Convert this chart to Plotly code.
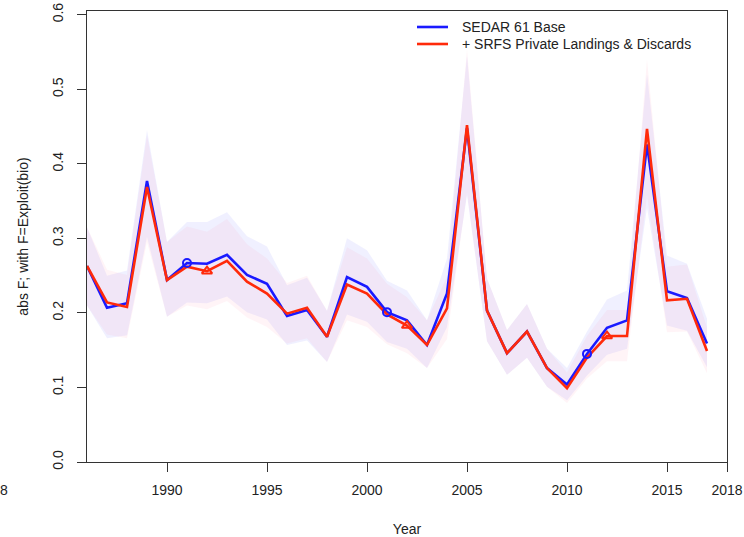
import plotly.graph_objects as go

years = list(range(1986, 2018))

base_f = [0.263, 0.207, 0.213, 0.377, 0.244, 0.267, 0.266, 0.278, 0.251, 0.239,
          0.196, 0.204, 0.168, 0.248, 0.235, 0.201, 0.190, 0.157, 0.226, 0.448,
          0.203, 0.146, 0.175, 0.126, 0.104, 0.145, 0.180, 0.190, 0.426, 0.229,
          0.220, 0.159]
base_hi = [0.315, 0.250, 0.257, 0.445, 0.295, 0.322, 0.322, 0.335, 0.303, 0.289,
           0.237, 0.247, 0.203, 0.300, 0.284, 0.243, 0.230, 0.190, 0.273, 0.545,
           0.246, 0.177, 0.212, 0.152, 0.126, 0.175, 0.218, 0.230, 0.520, 0.277,
           0.266, 0.192]
base_lo = [0.210, 0.166, 0.170, 0.302, 0.195, 0.214, 0.213, 0.222, 0.201, 0.191,
           0.157, 0.163, 0.134, 0.198, 0.188, 0.161, 0.152, 0.126, 0.181, 0.358,
           0.162, 0.117, 0.140, 0.101, 0.083, 0.116, 0.144, 0.152, 0.341, 0.183,
           0.176, 0.127]

srfs_f = [0.263, 0.214, 0.208, 0.369, 0.244, 0.262, 0.256, 0.270, 0.242, 0.226,
          0.199, 0.207, 0.168, 0.238, 0.226, 0.198, 0.183, 0.157, 0.206, 0.452,
          0.203, 0.146, 0.175, 0.126, 0.099, 0.140, 0.169, 0.169, 0.447, 0.217,
          0.219, 0.149]
srfs_hi = [0.315, 0.258, 0.251, 0.438, 0.295, 0.316, 0.309, 0.326, 0.292, 0.273,
           0.240, 0.250, 0.203, 0.288, 0.273, 0.239, 0.221, 0.190, 0.249, 0.553,
           0.246, 0.177, 0.212, 0.152, 0.120, 0.169, 0.204, 0.204, 0.540, 0.262,
           0.265, 0.180]
srfs_lo = [0.210, 0.171, 0.166, 0.295, 0.195, 0.210, 0.205, 0.216, 0.194, 0.181,
           0.159, 0.166, 0.134, 0.190, 0.181, 0.158, 0.146, 0.126, 0.165, 0.362,
           0.162, 0.117, 0.140, 0.101, 0.079, 0.112, 0.135, 0.135, 0.358, 0.174,
           0.175, 0.119]

marker_years_base = [1991, 2001, 2011]
marker_years_srfs = [1992, 2002, 2012]

legend_labels = ["SEDAR 61 Base", "+ SRFS Private Landings & Discards"]

x_ticks = [1990, 1995, 2000, 2005, 2010, 2015, 2018]
y_ticks = [0.0, 0.1, 0.2, 0.3, 0.4, 0.5, 0.6]

BLUE = "#1a1aff"
RED = "#ff2a0a"
FONT = "Liberation Sans, Arial, sans-serif"
TXT = "#222"

W, H = 744, 537
L, R, T, B = 87, 17, 11, 75
PW, PH = W - L - R, H - T - B


def px(xp):
    return (xp - L) / PW


def py(yp):
    return (H - B - yp) / PH


fig = go.Figure()

# confidence bands
for hi, lo, col in [(base_hi, base_lo, "rgba(110,110,255,0.10)"),
                    (srfs_hi, srfs_lo, "rgba(255,110,150,0.08)")]:
    fig.add_trace(go.Scatter(x=years + years[::-1], y=hi + lo[::-1],
                             fill="toself", fillcolor=col, line=dict(width=0),
                             mode="lines", hoverinfo="skip", showlegend=False))

fig.add_trace(go.Scatter(x=years, y=base_f, mode="lines", name=legend_labels[0],
                         line=dict(color=BLUE, width=2.6), showlegend=False))
fig.add_trace(go.Scatter(x=years, y=srfs_f, mode="lines", name=legend_labels[1],
                         line=dict(color=RED, width=2.6), showlegend=False))

bm = [base_f[years.index(y)] for y in marker_years_base]
sm = [srfs_f[years.index(y)] for y in marker_years_srfs]
fig.add_trace(go.Scatter(x=marker_years_base, y=bm, mode="markers", showlegend=False,
                         marker=dict(symbol="circle-open", size=8, color=BLUE,
                                     line=dict(width=2, color=BLUE))))
fig.add_trace(go.Scatter(x=marker_years_srfs, y=sm, mode="markers", showlegend=False,
                         marker=dict(symbol="triangle-up-open", size=9, color=RED,
                                     line=dict(width=2, color=RED))))

# manual legend (R-style, no box)
shapes = []
annotations = []
for i, (lab, col) in enumerate(zip(legend_labels, [BLUE, RED])):
    yy = 27 + 17 * i
    shapes.append(dict(type="line", xref="paper", yref="paper",
                       x0=px(417), x1=px(448), y0=py(yy), y1=py(yy),
                       line=dict(color=col, width=2.6)))
    annotations.append(dict(text=lab, xref="paper", yref="paper", x=px(460),
                            y=py(yy), xanchor="left", yanchor="middle",
                            showarrow=False, font=dict(size=14, color=TXT)))

annotations.append(dict(text="8", xref="paper", yref="paper", x=px(10),
                        y=py(490), xanchor="right", yanchor="middle",
                        showarrow=False, font=dict(size=14, color=TXT)))

fig.update_layout(
    width=W, height=H,
    margin=dict(l=L, r=R, t=T, b=B, autoexpand=False),
    paper_bgcolor="white", plot_bgcolor="white",
    font=dict(family=FONT, size=14, color=TXT),
    showlegend=False,
    xaxis=dict(range=[1986, 2018], tickvals=x_ticks, ticks="outside", ticklen=9,
               tickcolor="#333", showline=True, linecolor="#333", linewidth=1.2,
               mirror=True, showgrid=False, zeroline=False, automargin=False,
               ticklabelstandoff=6, tickfont=dict(size=14, color=TXT),
               title=dict(text="Year", font=dict(size=14, color=TXT), standoff=30)),
    yaxis=dict(range=[0, 0.605], tickvals=y_ticks, tickformat=".1f", ticks="outside",
               ticklen=9, tickcolor="#333", showline=True, linecolor="#333",
               linewidth=1.2, mirror=True, showgrid=False, zeroline=False,
               automargin=False, tickangle=-90, ticklabelstandoff=8,
               tickfont=dict(size=14, color=TXT),
               title=dict(text="abs F; with F=Exploit(bio)",
                          font=dict(size=14, color=TXT), standoff=18)),
    shapes=shapes,
    annotations=annotations,
)

fig.write_html("out.html",
               config={"displayModeBar": False},
               post_script="document.body.style.margin='0';"
                           "document.body.style.overflow='hidden';")
